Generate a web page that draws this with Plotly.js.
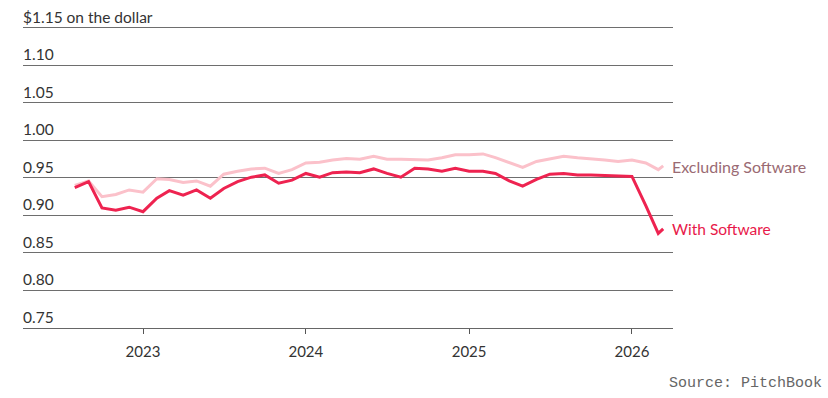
<!DOCTYPE html>
<html>
<head>
<meta charset="utf-8">
<script src="https://cdn.plot.ly/plotly-3.0.1.min.js"></script>
<style>
  html, body { margin: 0; padding: 0; background: #fff; }
  #chart { width: 828px; height: 398px; }
</style>
</head>
<body>
<div id="chart"></div>
<script>
const dates = [
  '2022-08-01','2022-09-01','2022-10-01','2022-11-01','2022-12-01',
  '2023-01-01','2023-02-01','2023-03-01','2023-04-01','2023-05-01','2023-06-01',
  '2023-07-01','2023-08-01','2023-09-01','2023-10-01','2023-11-01','2023-12-01',
  '2024-01-01','2024-02-01','2024-03-01','2024-04-01','2024-05-01','2024-06-01',
  '2024-07-01','2024-08-01','2024-09-01','2024-10-01','2024-11-01','2024-12-01',
  '2025-01-01','2025-02-01','2025-03-01','2025-04-01','2025-05-01','2025-06-01',
  '2025-07-01','2025-08-01','2025-09-01','2025-10-01','2025-11-01','2025-12-01',
  '2026-01-01','2026-02-01','2026-03-01','2026-03-12'
];

const withSoftware = [
  0.937, 0.945, 0.910, 0.907, 0.911,
  0.905, 0.923, 0.933, 0.927, 0.934, 0.923,
  0.936, 0.945, 0.951, 0.954, 0.943, 0.947,
  0.956, 0.951, 0.957, 0.958, 0.957, 0.962,
  0.956, 0.951, 0.963, 0.962, 0.959, 0.963,
  0.959, 0.959, 0.956, 0.946, 0.939, 0.948,
  0.955, 0.956, 0.954, 0.954, 0.953, 0.952,
  0.952, 0.913, 0.876, 0.882
];

const excludingSoftware = [
  0.940, 0.946, 0.925, 0.928, 0.934,
  0.931, 0.949, 0.948, 0.944, 0.946, 0.939,
  0.955, 0.959, 0.962, 0.963, 0.956, 0.961,
  0.970, 0.971, 0.974, 0.976, 0.975, 0.979,
  0.975, 0.975, 0.975, 0.974, 0.977, 0.981,
  0.981, 0.982, 0.977, 0.970, 0.964, 0.972,
  0.975, 0.979, 0.977, 0.976, 0.974, 0.972,
  0.974, 0.970, 0.961, 0.966
];

const yTickVals = [0.75, 0.80, 0.85, 0.90, 0.95, 1.00, 1.05, 1.10, 1.15];
const yTickText = ['0.75', '0.80', '0.85', '0.90', '0.95', '1.00', '1.05', '1.10', '$1.15 on the dollar'];
const xTickVals = ['2023-01-01', '2024-01-01', '2025-01-01', '2026-01-01'];
const xTickText = ['2023', '2024', '2025', '2026'];
const seriesNames = ['Excluding Software', 'With Software'];
const sourceText = 'Source: PitchBook';

const darkColor = '#ee2350';
const lightColor = '#fbc1ca';
const font = 'Lato, "Open Sans", sans-serif';

const traces = [
  {
    x: dates, y: excludingSoftware, type: 'scatter', mode: 'lines',
    name: seriesNames[0],
    line: { color: lightColor, width: 3, shape: 'linear' },
    hoverinfo: 'skip'
  },
  {
    x: dates, y: withSoftware, type: 'scatter', mode: 'lines',
    name: seriesNames[1],
    line: { color: darkColor, width: 3, shape: 'linear' },
    hoverinfo: 'skip'
  }
];

const lastIdx = dates.length - 1;

const yLabelAnnotations = yTickVals.map((v, i) => ({
  x: 0, xref: 'paper', y: v, yref: 'y',
  text: yTickText[i], showarrow: false,
  xanchor: 'left', yanchor: 'bottom', xshift: -2, yshift: 0,
  font: { family: font, size: 15.5, color: '#333333' }
}));

const layout = {
  width: 828, height: 398,
  margin: { l: 23, r: 155, t: 26, b: 70 },
  paper_bgcolor: '#ffffff',
  plot_bgcolor: '#ffffff',
  showlegend: false,
  font: { family: font, size: 15, color: '#333333' },
  xaxis: {
    type: 'date',
    range: ['2022-04-07', '2026-04-03'],
    tickvals: xTickVals,
    ticktext: xTickText,
    showgrid: false,
    zeroline: false,
    showline: true,
    linecolor: '#666666',
    linewidth: 1,
    ticks: 'outside',
    ticklen: 5,
    tickcolor: '#555555',
    tickwidth: 1,
    ticklabelstandoff: 5,
    tickfont: { family: font, size: 15, color: '#333333' },
    fixedrange: true
  },
  yaxis: {
    range: [0.7499, 1.15257],
    tickvals: yTickVals,
    showticklabels: false,
    ticks: '',
    showgrid: true,
    gridcolor: '#6e6e6e',
    gridwidth: 1,
    zeroline: false,
    showline: false,
    fixedrange: true
  },
  annotations: yLabelAnnotations.concat([
    {
      x: dates[lastIdx], y: excludingSoftware[lastIdx], xref: 'x', yref: 'y',
      text: seriesNames[0], showarrow: false, xanchor: 'left', yanchor: 'middle',
      xshift: 7, yshift: -1,
      font: { family: font, size: 16, color: '#9a6a73' }
    },
    {
      x: dates[lastIdx], y: withSoftware[lastIdx], xref: 'x', yref: 'y',
      text: seriesNames[1], showarrow: false, xanchor: 'left', yanchor: 'middle',
      xshift: 7, yshift: 0,
      font: { family: font, size: 15.5, color: '#e8194a' }
    },
    {
      x: 1, y: 0, xref: 'paper', yref: 'paper',
      text: sourceText, showarrow: false, xanchor: 'right', yanchor: 'middle',
      xshift: 151, yshift: -55,
      font: { family: '"Liberation Mono", "DejaVu Sans Mono", monospace', size: 15, color: '#666666' }
    }
  ])
};

Plotly.newPlot('chart', traces, layout, { displayModeBar: false, staticPlot: true });
</script>
</body>
</html>
